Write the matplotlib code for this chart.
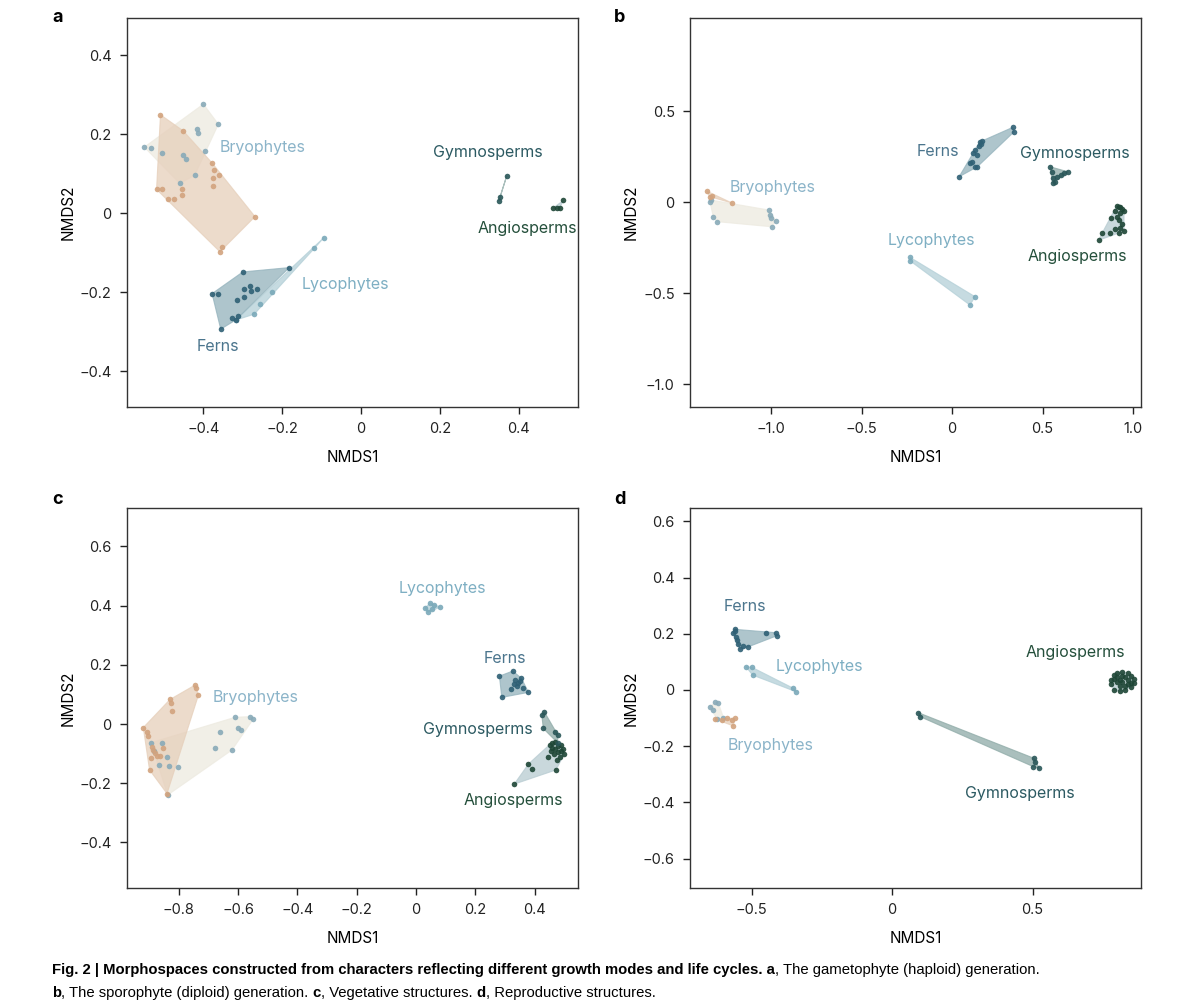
#!/usr/bin/env python3

from matplotlib import pyplot as plt
import numpy as np

plt.rcParams['font.family'] = ['Inter', 'DejaVu Sans']
plt.rcParams['axes.unicode_minus'] = True

# colours per group
col = {
    'bryo_tan': '#d2a37e', 'bryo_grey': '#88aab8',
    'lyco': '#7aa9b9', 'ferns': '#2f6075',
    'gymno': '#295658', 'angio': '#1e4636',
}
fill = {
    'bryo_tan': '#e6cfba', 'bryo_grey': '#edeae0',
    'lyco': '#b3cfd7', 'ferns': '#93b2bc',
    'gymno': '#8eaaa7', 'angio': '#b7cbd1',
}
label_col = {
    'Bryophytes': '#8bb4c9', 'Lycophytes': '#7eafc3', 'Ferns': '#4b758d',
    'Gymnosperms': '#2c5a62', 'Angiosperms': '#244f3b',
}

# ---- panel a : gametophyte ----
a_bryo_tan_x = [-0.509, -0.451, -0.378, -0.373, -0.361, -0.376, -0.376, -0.455, -0.455, -0.519, -0.506, -0.489, -0.475, -0.269, -0.354, -0.358]
a_bryo_tan_y = [0.249, 0.208, 0.127, 0.109, 0.096, 0.089, 0.068, 0.060, 0.046, 0.060, 0.060, 0.035, 0.035, -0.009, -0.085, -0.098]
a_bryo_grey_x = [-0.400, -0.362, -0.550, -0.532, -0.505, -0.417, -0.413, -0.396, -0.451, -0.445, -0.422, -0.460]
a_bryo_grey_y = [0.276, 0.225, 0.167, 0.165, 0.151, 0.212, 0.202, 0.158, 0.147, 0.138, 0.096, 0.075]
a_ferns_x = [-0.300, -0.182, -0.378, -0.362, -0.356, -0.328, -0.313, -0.317, -0.296, -0.282, -0.279, -0.265, -0.314, -0.296]
a_ferns_y = [-0.149, -0.138, -0.204, -0.205, -0.294, -0.266, -0.261, -0.270, -0.191, -0.185, -0.197, -0.191, -0.219, -0.213]
a_lyco_x = [-0.094, -0.118, -0.227, -0.256, -0.271, -0.318]
a_lyco_y = [-0.062, -0.089, -0.199, -0.230, -0.256, -0.271]
a_gymno_x = [0.370, 0.353, 0.350]
a_gymno_y = [0.094, 0.040, 0.031]
a_angio_x = [0.514, 0.488, 0.505, 0.498]
a_angio_y = [0.032, 0.013, 0.014, 0.012]

# ---- panel b : sporophyte ----
b_bryo_tan_x = [-1.355, -1.324, -1.217, -1.340]
b_bryo_tan_y = [0.060, 0.035, -0.005, 0.030]
b_bryo_grey_x = [-1.333, -1.337, -1.319, -1.297, -1.011, -1.006, -0.996, -0.974, -1.002]
b_bryo_grey_y = [0.011, 0.000, -0.084, -0.108, -0.044, -0.071, -0.136, -0.104, -0.090]
b_ferns_x = [0.039, 0.335, 0.343, 0.155, 0.159, 0.127, 0.118, 0.136, 0.099, 0.109, 0.127, 0.140, 0.150, 0.165]
b_ferns_y = [0.139, 0.410, 0.386, 0.331, 0.319, 0.286, 0.268, 0.258, 0.213, 0.222, 0.194, 0.194, 0.310, 0.335]
b_lyco_x = [-0.232, -0.232, 0.127, 0.099]
b_lyco_y = [-0.304, -0.323, -0.520, -0.566]
b_gymno_x = [0.541, 0.551, 0.560, 0.569, 0.556, 0.641, 0.620, 0.600, 0.580]
b_gymno_y = [0.194, 0.167, 0.130, 0.112, 0.106, 0.166, 0.160, 0.150, 0.140]
b_angio_x = [0.92, 0.94, 0.90, 0.93, 0.95, 0.91, 0.92, 0.94, 0.93, 0.90, 0.92, 0.87, 0.83, 0.81, 0.88, 0.95, 0.91, 0.93]
b_angio_y = [-0.03, -0.04, -0.05, -0.06, -0.05, -0.08, -0.10, -0.12, -0.14, -0.15, -0.17, -0.17, -0.17, -0.21, -0.09, -0.16, -0.02, -0.03]

# ---- panel c : vegetative ----
c_bryo_tan_x = [-0.745, -0.742, -0.734, -0.830, -0.827, -0.824, -0.920, -0.906, -0.903, -0.891, -0.886, -0.895, -0.899, -0.854, -0.863, -0.875, -0.880, -0.840]
c_bryo_tan_y = [0.132, 0.121, 0.098, 0.083, 0.072, 0.044, -0.012, -0.028, -0.041, -0.077, -0.088, -0.116, -0.155, -0.082, -0.108, -0.108, -0.099, -0.235]
c_bryo_grey_x = [-0.610, -0.560, -0.549, -0.599, -0.591, -0.661, -0.677, -0.621, -0.802, -0.832, -0.866, -0.841, -0.858, -0.894, -0.838, -0.885]
c_bryo_grey_y = [0.023, 0.025, 0.017, -0.012, -0.020, -0.028, -0.080, -0.088, -0.144, -0.141, -0.140, -0.113, -0.063, -0.063, -0.240, -0.090]
c_ferns_x = [0.281, 0.326, 0.289, 0.362, 0.379, 0.334, 0.345, 0.355, 0.340, 0.350, 0.320, 0.330]
c_ferns_y = [0.162, 0.179, 0.090, 0.123, 0.107, 0.150, 0.140, 0.155, 0.130, 0.145, 0.120, 0.135]
c_lyco_x = [0.030, 0.047, 0.061, 0.081, 0.040, 0.055]
c_lyco_y = [0.392, 0.409, 0.402, 0.395, 0.378, 0.390]
c_gymno_x = [0.432, 0.424, 0.429, 0.469, 0.478, 0.477]
c_gymno_y = [0.042, 0.030, -0.015, -0.026, -0.037, -0.063]
c_angio_x = [0.331, 0.379, 0.390, 0.472, 0.450, 0.460, 0.470, 0.480, 0.490, 0.455, 0.465, 0.485, 0.495, 0.445, 0.475, 0.460, 0.500, 0.468, 0.488, 0.478]
c_angio_y = [-0.203, -0.135, -0.153, -0.155, -0.070, -0.065, -0.060, -0.075, -0.090, -0.090, -0.100, -0.110, -0.085, -0.110, -0.120, -0.080, -0.100, -0.085, -0.070, -0.095]

# ---- panel d : reproductive ----
d_bryo_tan_x = [-0.630, -0.606, -0.588, -0.570, -0.559, -0.565]
d_bryo_tan_y = [-0.103, -0.107, -0.101, -0.107, -0.101, -0.128]
d_bryo_grey_x = [-0.630, -0.648, -0.636, -0.618, -0.600, -0.622]
d_bryo_grey_y = [-0.042, -0.062, -0.071, -0.047, -0.098, -0.104]
d_ferns_x = [-0.559, -0.565, -0.448, -0.413, -0.410, -0.541, -0.511, -0.553, -0.547, -0.529, -0.560, -0.555]
d_ferns_y = [0.216, 0.202, 0.202, 0.204, 0.193, 0.145, 0.154, 0.178, 0.164, 0.157, 0.210, 0.190]
d_lyco_x = [-0.520, -0.499, -0.496, -0.351, -0.342]
d_lyco_y = [0.083, 0.081, 0.053, 0.006, -0.006]
d_gymno_x = [0.094, 0.100, 0.505, 0.503, 0.524, 0.507]
d_gymno_y = [-0.081, -0.095, -0.243, -0.273, -0.279, -0.255]
d_angio_x = [0.79, 0.80, 0.82, 0.84, 0.85, 0.86, 0.78, 0.79, 0.81, 0.83, 0.85, 0.80, 0.82, 0.84, 0.79, 0.81, 0.83, 0.85,
             0.80, 0.82, 0.84, 0.81, 0.83, 0.86, 0.78]
d_angio_y = [0.04, 0.06, 0.065, 0.06, 0.05, 0.04, 0.02, 0.00, -0.005, 0.00, 0.01, 0.03, 0.03, 0.035, 0.055, 0.015, 0.045, 0.025,
             0.045, 0.05, 0.02, 0.035, 0.015, 0.025, 0.035]

panels = {
    'a': {
        'groups': [('bryo_grey', a_bryo_grey_x, a_bryo_grey_y), ('bryo_tan', a_bryo_tan_x, a_bryo_tan_y),
                   ('lyco', a_lyco_x, a_lyco_y), ('ferns', a_ferns_x, a_ferns_y),
                   ('gymno', a_gymno_x, a_gymno_y), ('angio', a_angio_x, a_angio_y)],
        'labels': [('Bryophytes', -0.25, 0.167), ('Lycophytes', -0.04, -0.18), ('Ferns', -0.363, -0.339),
                   ('Gymnosperms', 0.323, 0.154), ('Angiosperms', 0.422, -0.038)],
        'xlim': (-0.594, 0.551), 'ylim': (-0.491, 0.494),
        'xticks': [-0.4, -0.2, 0, 0.2, 0.4], 'yticks': [-0.4, -0.2, 0, 0.2, 0.4],
    },
    'b': {
        'groups': [('bryo_grey', b_bryo_grey_x, b_bryo_grey_y), ('bryo_tan', b_bryo_tan_x, b_bryo_tan_y),
                   ('lyco', b_lyco_x, b_lyco_y), ('ferns', b_ferns_x, b_ferns_y),
                   ('gymno', b_gymno_x, b_gymno_y), ('angio', b_angio_x, b_angio_y)],
        'labels': [('Bryophytes', -0.994, 0.082), ('Ferns', -0.077, 0.275), ('Gymnosperms', 0.680, 0.264),
                   ('Lycophytes', -0.116, -0.209), ('Angiosperms', 0.691, -0.297)],
        'xlim': (-1.448, 1.044), 'ylim': (-1.126, 1.011),
        'xticks': [-1.0, -0.5, 0, 0.5, 1.0], 'yticks': [-1.0, -0.5, 0, 0.5],
    },
    'c': {
        'groups': [('bryo_grey', c_bryo_grey_x, c_bryo_grey_y), ('bryo_tan', c_bryo_tan_x, c_bryo_tan_y),
                   ('lyco', c_lyco_x, c_lyco_y), ('ferns', c_ferns_x, c_ferns_y),
                   ('angio', c_angio_x, c_angio_y), ('gymno', c_gymno_x, c_gymno_y)],
        'labels': [('Lycophytes', 0.088, 0.459), ('Ferns', 0.300, 0.223), ('Bryophytes', -0.543, 0.091),
                   ('Gymnosperms', 0.209, -0.020), ('Angiosperms', 0.327, -0.257)],
        'xlim': (-0.975, 0.546), 'ylim': (-0.554, 0.730),
        'xticks': [-0.8, -0.6, -0.4, -0.2, 0, 0.2, 0.4], 'yticks': [-0.4, -0.2, 0, 0.2, 0.4, 0.6],
    },
    'd': {
        'groups': [('bryo_grey', d_bryo_grey_x, d_bryo_grey_y), ('bryo_tan', d_bryo_tan_x, d_bryo_tan_y),
                   ('lyco', d_lyco_x, d_lyco_y), ('ferns', d_ferns_x, d_ferns_y),
                   ('gymno', d_gymno_x, d_gymno_y), ('angio', d_angio_x, d_angio_y)],
        'labels': [('Ferns', -0.523, 0.299), ('Lycophytes', -0.260, 0.085), ('Bryophytes', -0.434, -0.199),
                   ('Angiosperms', 0.651, 0.135), ('Gymnosperms', 0.456, -0.367)],
        'xlim': (-0.719, 0.886), 'ylim': (-0.705, 0.648),
        'xticks': [-0.5, 0, 0.5], 'yticks': [-0.6, -0.4, -0.2, 0, 0.2, 0.4, 0.6],
    },
}


def hull(xs, ys):
    pts = sorted(set(zip(xs, ys)))
    if len(pts) < 3:
        return pts
    def cross(o, a, b):
        return (a[0]-o[0])*(b[1]-o[1]) - (a[1]-o[1])*(b[0]-o[0])
    lower = []
    for p in pts:
        while len(lower) >= 2 and cross(lower[-2], lower[-1], p) <= 0:
            lower.pop()
        lower.append(p)
    upper = []
    for p in reversed(pts):
        while len(upper) >= 2 and cross(upper[-2], upper[-1], p) <= 0:
            upper.pop()
        upper.append(p)
    return lower[:-1] + upper[:-1]


def fmt(v):
    if v == 0:
        return '0'
    return ('%.1f' % v).replace('-', '\u2212')


fig = plt.figure(figsize=(11.96, 10.05), dpi=100)
boxes = {
    'a': [127/1196, 598/1005, 451/1196, 389/1005],
    'b': [690/1196, 598/1005, 451/1196, 389/1005],
    'c': [127/1196, 117/1005, 451/1196, 380/1005],
    'd': [690/1196, 117/1005, 451/1196, 380/1005],
}
letter_pos = {'a': (52, 18), 'b': (614, 18), 'c': (52, 500), 'd': (614, 500)}

for key, p in panels.items():
    ax = fig.add_axes(boxes[key])
    for name, xs, ys in p['groups']:
        h = hull(xs, ys)
        hx = [q[0] for q in h]
        hy = [q[1] for q in h]
        if len(h) >= 3:
            ax.fill(hx, hy, color=fill[name], alpha=0.75, lw=0.8, ec=fill[name], zorder=1)
        else:
            ax.plot(hx, hy, color=fill[name], lw=1.2, zorder=1)
        ax.scatter(xs, ys, s=16, color=col[name], alpha=0.9, lw=0, zorder=3)
    for txt, x, y in p['labels']:
        ax.text(x, y, txt, color=label_col[txt], fontsize=11.5, ha='center', va='center', zorder=4)
    ax.set_xlim(p['xlim'])
    ax.set_ylim(p['ylim'])
    ax.set_xticks(p['xticks'])
    ax.set_xticklabels([fmt(v) for v in p['xticks']])
    ax.set_yticks(p['yticks'])
    ax.set_yticklabels([fmt(v) for v in p['yticks']])
    ax.tick_params(direction='out', length=5, width=1, labelsize=10.5, colors='#222222', pad=6)
    for s in ax.spines.values():
        s.set_linewidth(1.0)
        s.set_color('#333333')
    ax.set_xlabel('NMDS1', fontsize=11, labelpad=10)
    ax.set_ylabel('NMDS2', fontsize=11, labelpad=3)
    lx, ly = letter_pos[key]
    fig.text(lx/1196, 1 - ly/1005, key, fontsize=13, fontweight='bold', ha='left', va='center')

# caption, with bold runs; squeezed to the width of the reference caption
cap_font = ['Liberation Sans', 'DejaVu Sans']
caption = [
    [('Fig. 2 | Morphospaces constructed from characters reflecting different growth modes and life cycles. a', 'bold'),
     (', The gametophyte (haploid) generation.', 'normal')],
    [('b', 'bold'), (', The sporophyte (diploid) generation. ', 'normal'), ('c', 'bold'),
     (', Vegetative structures. ', 'normal'), ('d', 'bold'), (', Reproductive structures.', 'normal')],
]
renderer = fig.canvas.get_renderer()


def line_width(line, size):
    total = 0
    for txt, w in line:
        t = fig.text(0, 0, txt, fontsize=size, fontweight=w, family=cap_font)
        total += t.get_window_extent(renderer=renderer).width
        t.remove()
    return total


cap_size = 11 * 988 / line_width(caption[0], 11)
for i, line in enumerate(caption):
    x = 52
    y = 1 - (970 + i*23)/1005
    for txt, w in line:
        t = fig.text(x/1196, y, txt, fontsize=cap_size, fontweight=w, family=cap_font, ha='left', va='center')
        bb = t.get_window_extent(renderer=renderer)
        x += bb.width

fig.savefig('out.png', dpi=100)
